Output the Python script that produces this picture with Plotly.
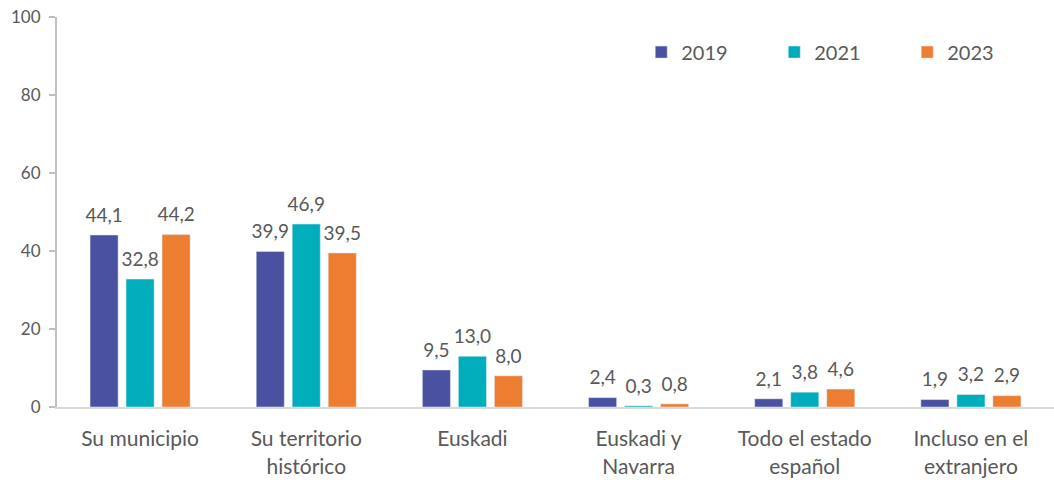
import plotly.graph_objects as go

categories = ["Su municipio", "Su territorio<br>histórico", "Euskadi", "Euskadi y<br>Navarra",
              "Todo el estado<br>español", "Incluso en el<br>extranjero"]
years = ["2019", "2021", "2023"]
v2019 = [44.1, 39.9, 9.5, 2.4, 2.1, 1.9]
v2021 = [32.8, 46.9, 13.0, 0.3, 3.8, 3.2]
v2023 = [44.2, 39.5, 8.0, 0.8, 4.6, 2.9]
colors = ["#4A51A0", "#00AEBB", "#ED7D31"]
y_ticks = [0, 20, 40, 60, 80, 100]

FONT = "Lato, Open Sans, sans-serif"
TXT = "#595959"

fig = go.Figure()
for name, vals, col in zip(years, [v2019, v2021, v2023], colors):
    fig.add_trace(go.Bar(
        x=categories, y=vals, name=name, marker_color=col,
        offsetgroup=name, alignmentgroup="a",
    ))
for name, vals in zip(years, [v2019, v2021, v2023]):
    fig.add_trace(go.Scatter(
        x=categories, y=vals, mode="markers+text", showlegend=False, hoverinfo="skip",
        offsetgroup=name, alignmentgroup="a",
        text=[f"{v:.1f}".replace(".", ",") for v in vals],
        textposition="top center", cliponaxis=False,
        marker=dict(size=12, color="rgba(0,0,0,0)"),
        textfont=dict(size=19, color=TXT, family=FONT),
    ))

fig.update_layout(
    width=1054, height=480,
    margin=dict(l=57, r=0, t=17, b=73, autoexpand=False),
    plot_bgcolor="white", paper_bgcolor="white",
    barmode="group", bargap=0.35, bargroupgap=0.22,
    scattermode="group", scattergap=0.35,
    font=dict(family=FONT, color=TXT, size=18),
    legend=dict(orientation="h", x=0.586, y=0.91, xanchor="left", yanchor="middle",
                font=dict(size=20, color=TXT), entrywidth=88, itemwidth=30,
                traceorder="normal"),
    xaxis=dict(showline=True, linecolor="#D9D9D9", linewidth=2, ticks="",
               tickfont=dict(size=21, color=TXT), ticklabelstandoff=12),
    yaxis=dict(range=[0, 100], tickvals=y_ticks, showgrid=False, showline=True,
               linecolor="#BFBFBF", linewidth=2, ticks="outside", ticklen=6,
               tickcolor="#BFBFBF", tickwidth=2, zeroline=False,
               tickfont=dict(size=17, color=TXT), ticklabelstandoff=5),
)
fig.write_html("out.html", post_script="document.body.style.margin='0';",
               config={"displayModeBar": False})
